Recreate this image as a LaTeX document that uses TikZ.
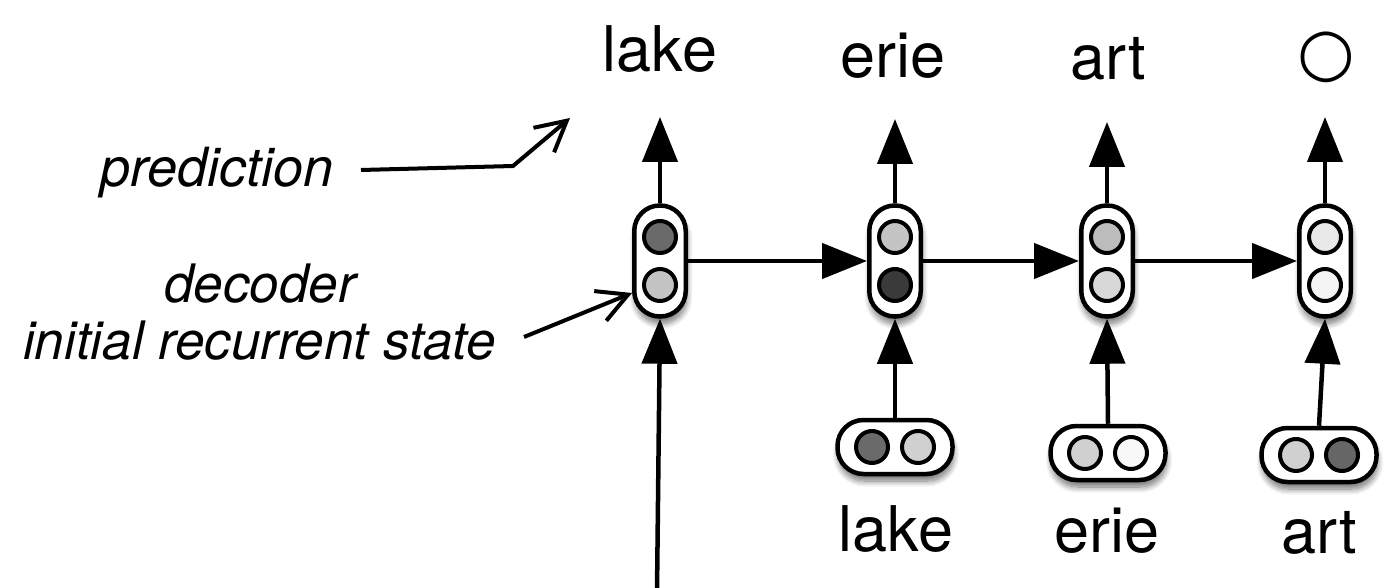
\documentclass[tikz,border=0pt]{standalone}
\usepackage{fontspec}
\setmainfont{TeX Gyre Heros}
\newfontfamily\symfont{DejaVu Sans}
\usetikzlibrary{arrows.meta,shadows.blur}
\definecolor{gA}{HTML}{6A6A6A}
\definecolor{gB}{HTML}{C4C4C4}
\definecolor{gC}{HTML}{3A3A3A}
\definecolor{gD}{HTML}{BCBCBC}
\definecolor{gE}{HTML}{D8D8D8}
\definecolor{gF}{HTML}{E8E8E8}
\definecolor{gG}{HTML}{F4F4F4}
\definecolor{gH}{HTML}{D0D0D0}
\definecolor{gI}{HTML}{F8F8F8}
\definecolor{gJ}{HTML}{666666}
\begin{document}
\begin{tikzpicture}[x=1pt,y=-1pt,
  softshadow/.style={blur shadow={shadow xshift=1pt,shadow yshift=-7pt,
    shadow blur radius=6pt,shadow blur steps=10,shadow opacity=55}},
  cellbox/.style={draw,line width=4.5pt,fill=white,rounded corners=25.5pt,
    minimum width=51.5pt,minimum height=111pt,inner sep=0pt,softshadow},
  pillbox/.style={draw,line width=4.5pt,fill=white,rounded corners=26pt,
    minimum width=115pt,minimum height=54pt,inner sep=0pt,softshadow},
  dot/.style={circle,draw,line width=4pt,minimum size=32pt,inner sep=0pt},
  conn/.style={line width=4.5pt,-{Triangle[length=45pt,width=35pt]}},
  ann/.style={line width=4pt,-{Straight Barb[length=30pt,width=32pt]}},
  word/.style={font=\fontsize{63}{70}\selectfont,inner sep=0pt,anchor=base},
  lbl/.style={inner sep=0pt,anchor=base},
]
\useasboundingbox (0,0) rectangle (1389,588);

% decoder cells
\node[cellbox] (c1) at (660,261) {};
\node[cellbox] (c2) at (895,261) {};
\node[cellbox] (c3) at (1107,261) {};
\node[cellbox] (c4) at (1325,261) {};
\node[dot,fill=gA] (c1a) at (660,237) {};
\node[dot,fill=gB] (c1b) at (660,285) {};
\node[dot,fill=gB] (c2a) at (895,237) {};
\node[dot,fill=gC] (c2b) at (895,285) {};
\node[dot,fill=gD] (c3a) at (1107,237) {};
\node[dot,fill=gE] (c3b) at (1107,285) {};
\node[dot,fill=gF] (c4a) at (1325,237) {};
\node[dot,fill=gG] (c4b) at (1325,285) {};

% input pills
\node[pillbox] (i1) at (895,447) {};
\node[pillbox] (i2) at (1108,453) {};
\node[pillbox] (i3) at (1319,455) {};
\node[dot,fill=gA] (i1a) at (872,447) {};
\node[dot,fill=gH] (i1b) at (918,447) {};
\node[dot,fill=gH] (i2a) at (1085,453) {};
\node[dot,fill=gI] (i2b) at (1131,453) {};
\node[dot,fill=gH] (i3a) at (1296,455) {};
\node[dot,fill=gJ] (i3b) at (1342,455) {};

% output words
\node[word] (o1) at (660,72) {lake};
\node[word] (o2) at (893,78) {erie};
\node[word] (o3) at (1108,80) {art};
\node[inner sep=0pt,font=\symfont\fontsize{66}{70}\selectfont] (o4) at (1326,57) {○};

% input words
\node[word] (w1) at (896,551) {lake};
\node[word] (w2) at (1107,552) {erie};
\node[word] (w3) at (1319,553) {art};

% tips of the output arrows
\coordinate (t1) at (660,117);
\coordinate (t2) at (895,119);
\coordinate (t3) at (1107,122);
\coordinate (t4) at (1325,117);
\coordinate (b0) at (657,592);

\draw[conn] (c1.north) -- (t1);
\draw[conn] (c2.north) -- (t2);
\draw[conn] (c3.north) -- (t3);
\draw[conn] (c4.north) -- (t4);

\draw[conn] (c1.east) -- (c2.west);
\draw[conn] (c2.east) -- (c3.west);
\draw[conn] (c3.east) -- (c4.west);

\draw[conn] (i1.north) -- (c2.south);
\draw[conn] (i2.north) -- (c3.south);
\draw[conn] (i3.north) -- (c4.south);
\draw[conn] (b0) -- (c1.south);

% annotations
\node[lbl,font=\fontsize{54}{60}\selectfont\itshape] (lp) at (217,187) {prediction};
\node[lbl,font=\fontsize{53}{60}\selectfont\itshape] (ld) at (260,302) {decoder};
\node[lbl,anchor=base east,font=\fontsize{53}{60}\selectfont\itshape] (li) at (496,359) {initial recurrent state};

\coordinate (pa) at (361,170);
\coordinate (pb) at (513,166);
\coordinate (pc) at (570,118);
\draw[ann] (pa) -- (pb) -- (pc);
\coordinate (da) at (524,337);
\draw[ann] (da) -- (c1.west |- 0,293);
\end{tikzpicture}
\end{document}
